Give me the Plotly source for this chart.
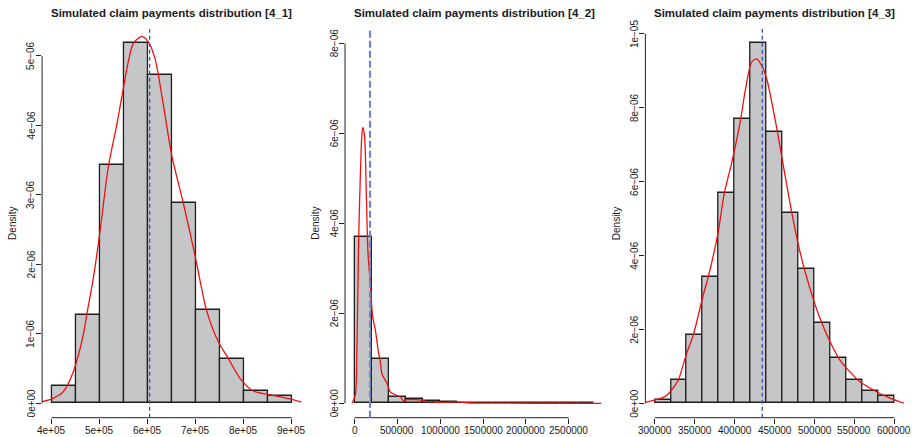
import plotly.graph_objects as go

SCALE = 1e-6  # densities below are given in units of 1e-6

titles = ["Simulated claim payments distribution [4_1]",
          "Simulated claim payments distribution [4_2]",
          "Simulated claim payments distribution [4_3]"]

# ---------------- Panel 4_1 ----------------
edges1 = [400000, 450000, 500000, 550000, 600000, 650000, 700000, 750000, 800000, 850000, 900000]
dens1 = [0.253, 1.275, 3.43, 5.18, 4.72, 2.886, 1.338, 0.637, 0.172, 0.100]
kde1_x = [378000, 403300, 424200, 445000, 465800, 472900, 486700, 500600, 517900, 535400,
          549200, 559600, 570000, 587500, 601300, 615200, 632500, 650000, 674200, 698500,
          722900, 747100, 767900, 792300, 820000, 868700, 896500, 924200]
kde1_y = [0.02, 0.072, 0.167, 0.455, 0.983, 1.27, 1.80, 2.47, 3.40, 4.00,
          4.53, 4.915, 5.18, 5.275, 5.2, 4.96, 4.30, 3.57, 2.88, 2.13,
          1.33, 0.886, 0.647, 0.36, 0.177, 0.105, 0.062, 0.009]
mean1 = 604000
xt1 = [400000, 500000, 600000, 700000, 800000, 900000]
xt1_lab = ["4e+05", "5e+05", "6e+05", "7e+05", "8e+05", "9e+05"]
yt1 = [0, 1, 2, 3, 4, 5]
yt1_lab = ["0e+00", "1e\u221206", "2e\u221206", "3e\u221206", "4e\u221206", "5e\u221206"]
ylim1 = max(dens1)

# ---------------- Panel 4_2 ----------------
edges2 = [0, 200000, 400000, 600000, 800000, 1000000, 1200000, 1400000, 1600000,
          1800000, 2000000, 2200000, 2400000, 2600000, 2800000]
dens2 = [3.69, 0.978, 0.147, 0.089, 0.050, 0.022, 0.015, 0.004, 0.002, 0.002,
         0.001, 0.001, 0.001, 0.001]
kde2_x = [-30400, 8200, 28100, 46800, 66700, 86500, 98200, 117000, 136800, 156700,
          183600, 210500, 242100, 280700, 300600, 320500, 379000, 417500, 476000, 534500,
          573100, 612900, 788300, 846800, 924000, 1002300, 1197600, 1314600, 1431600,
          1800000, 2400000, 2880000]
kde2_y = [0.0, 0.18, 1.33, 3.56, 5.04, 6.0, 6.13, 5.92, 4.67, 3.33,
          2.67, 1.93, 1.63, 1.11, 0.92, 0.65, 0.44, 0.25, 0.19, 0.14,
          0.05, 0.08, 0.07, 0.035, 0.035, 0.02, 0.03, 0.012, 0.005,
          0.002, 0.001, 0.0]
mean2 = 180000
xt2 = [0, 500000, 1000000, 1500000, 2000000, 2500000]
xt2_lab = ["0", "500000", "1000000", "1500000", "2000000", "2500000"]
yt2 = [0, 2, 4, 6, 8]
yt2_lab = ["0e+00", "2e\u221206", "4e\u221206", "6e\u221206", "8e\u221206"]
ylim2 = 8

# ---------------- Panel 4_3 ----------------
edges3 = [300000, 320000, 340000, 360000, 380000, 400000, 420000, 440000, 460000,
          480000, 500000, 520000, 540000, 560000, 580000, 600000]
dens3 = [0.10, 0.63, 1.846, 3.42, 5.69, 7.69, 9.74, 7.33, 5.14, 3.64, 2.18, 1.24,
         0.63, 0.34, 0.19]
kde3_x = [287000, 300000, 312500, 320900, 329200, 339700, 348000, 360500, 366800, 379300,
          386900, 396100, 407400, 412800, 421200, 427400, 433700, 440000, 450400, 460800,
          471300, 481700, 494200, 506800, 519300, 531800, 544400, 556900, 573600, 590400,
          607000, 615400]
kde3_y = [0.02, 0.09, 0.18, 0.36, 0.63, 1.35, 1.846, 2.93, 3.42, 4.64,
          5.69, 6.5, 7.68, 8.42, 9.23, 9.32, 9.14, 8.78, 7.70, 6.44,
          5.18, 4.10, 3.11, 2.30, 1.67, 1.17, 0.85, 0.58, 0.36, 0.18,
          0.04, 0.0]
mean3 = 434500
xt3 = [300000, 350000, 400000, 450000, 500000, 550000, 600000]
xt3_lab = ["300000", "350000", "400000", "450000", "500000", "550000", "600000"]
yt3 = [0, 2, 4, 6, 8, 10]
yt3_lab = ["0e+00", "2e\u221206", "4e\u221206", "6e\u221206", "8e\u221206", "1e\u221205"]
ylim3 = max(dens3)

# ---------------- layout geometry (pixels) ----------------
W, H = 915, 437
panel_px = [(42.1, 301.3), (345.0, 604.0), (645.4, 903.9)]
plot_top_px, plot_bot_px = 28.9, 417.7
ydom = [(H - plot_bot_px) / H, (H - plot_top_px) / H]

FONT = "Liberation Sans, Arial, Helvetica, sans-serif"
TXT = "#1a1a1a"
BAR_FILL = "#c5c6c8"
BAR_LINE = "#1e1e1e"
mean_styles = [dict(color="#3553b5", width=1.3, dash="4px,3px"),
               dict(color="#6f86c9", width=2.2, dash="7px,3px"),
               dict(color="#3553b5", width=1.3, dash="4px,3px")]

panels = [
    (edges1, dens1, kde1_x, kde1_y, mean1, xt1, xt1_lab, yt1, yt1_lab, ylim1),
    (edges2, dens2, kde2_x, kde2_y, mean2, xt2, xt2_lab, yt2, yt2_lab, ylim2),
    (edges3, dens3, kde3_x, kde3_y, mean3, xt3, xt3_lab, yt3, yt3_lab, ylim3),
]

fig = go.Figure()
shapes = []
annotations = []
layout_axes = {}

for i, (edges, dens, kx, ky, mean, xt, xtl, yt, ytl, ylim) in enumerate(panels):
    n = i + 1
    xa = "x" if n == 1 else f"x{n}"
    ya = "y" if n == 1 else f"y{n}"
    centers = [(edges[k] + edges[k + 1]) / 2 for k in range(len(dens))]
    widths = [edges[k + 1] - edges[k] for k in range(len(dens))]
    fig.add_trace(go.Bar(
        x=centers, y=[d * SCALE for d in dens], width=widths,
        marker=dict(color=BAR_FILL, line=dict(color=BAR_LINE, width=1.3)),
        xaxis=xa, yaxis=ya, showlegend=False, hoverinfo="skip"))
    fig.add_trace(go.Scatter(
        x=kx, y=[v * SCALE for v in ky], mode="lines",
        line=dict(color="#f01010", width=1.3, shape="spline", smoothing=0.8),
        xaxis=xa, yaxis=ya, showlegend=False, hoverinfo="skip"))

    span = edges[-1] - edges[0]
    xr = [edges[0] - 0.04 * span, edges[-1] + 0.04 * span]
    yr = [-0.04 * ylim * SCALE, 1.04 * ylim * SCALE]
    x0p, x1p = panel_px[i]
    xdom = [x0p / W, x1p / W]

    layout_axes["xaxis" if n == 1 else f"xaxis{n}"] = dict(
        domain=xdom, range=xr, anchor=ya, showgrid=False, zeroline=False,
        showline=False, ticks="outside", ticklen=5, tickwidth=1, tickcolor="#222",
        tickvals=xt, showticklabels=False, automargin=False, fixedrange=True)
    layout_axes["yaxis" if n == 1 else f"yaxis{n}"] = dict(
        domain=ydom, range=yr, anchor=xa, showgrid=False, zeroline=False,
        showline=False, ticks="outside", ticklen=5, tickwidth=1, tickcolor="#222",
        tickvals=[v * SCALE for v in yt], showticklabels=False,
        automargin=False, fixedrange=True)

    # R-style axis lines spanning first to last tick
    shapes.append(dict(type="line", xref=xa, yref=f"{ya} domain",
                       x0=xt[0], x1=xt[-1], y0=0, y1=0,
                       line=dict(color="#222", width=1)))
    shapes.append(dict(type="line", xref=f"{xa} domain", yref=ya,
                       x0=0, x1=0, y0=yt[0] * SCALE, y1=yt[-1] * SCALE,
                       line=dict(color="#222", width=1)))
    # mean line
    shapes.append(dict(type="line", xref=xa, yref=f"{ya} domain",
                       x0=mean, x1=mean, y0=0, y1=1, line=mean_styles[i]))

    tick_font = dict(family=FONT, size=10, color=TXT)
    for v, lab in zip(xt, xtl):
        annotations.append(dict(text=lab, xref=xa, yref=f"{ya} domain", x=v, y=0,
                                yshift=-13, xanchor="center", yanchor="middle",
                                showarrow=False, font=tick_font))
    for v, lab in zip(yt, ytl):
        annotations.append(dict(text=lab, xref=f"{xa} domain", yref=ya, x=0, y=v * SCALE,
                                xshift=-11, xanchor="center", yanchor="middle",
                                textangle=-90, showarrow=False, font=tick_font))

    annotations.append(dict(text=f"<b>{titles[i]}</b>", xref="paper", yref="paper",
                            x=(x0p + x1p) / 2 / W, y=(H - 12.7) / H,
                            xanchor="center", yanchor="middle", showarrow=False,
                            font=dict(family=FONT, size=11.5, color=TXT)))
    annotations.append(dict(text="Density", xref=f"{xa} domain", yref=f"{ya} domain",
                            x=0, y=0.5, xshift=-29.5, xanchor="center", yanchor="middle",
                            textangle=-90, showarrow=False,
                            font=dict(family=FONT, size=10, color=TXT)))

fig.update_layout(
    width=W, height=H, margin=dict(l=0, r=0, t=0, b=0),
    paper_bgcolor="white", plot_bgcolor="white",
    bargap=0, shapes=shapes, annotations=annotations, showlegend=False,
    **layout_axes)

fig.write_html("out.html",
               config={"displayModeBar": False},
               post_script="document.body.style.margin='0';document.body.style.overflow='hidden';")
